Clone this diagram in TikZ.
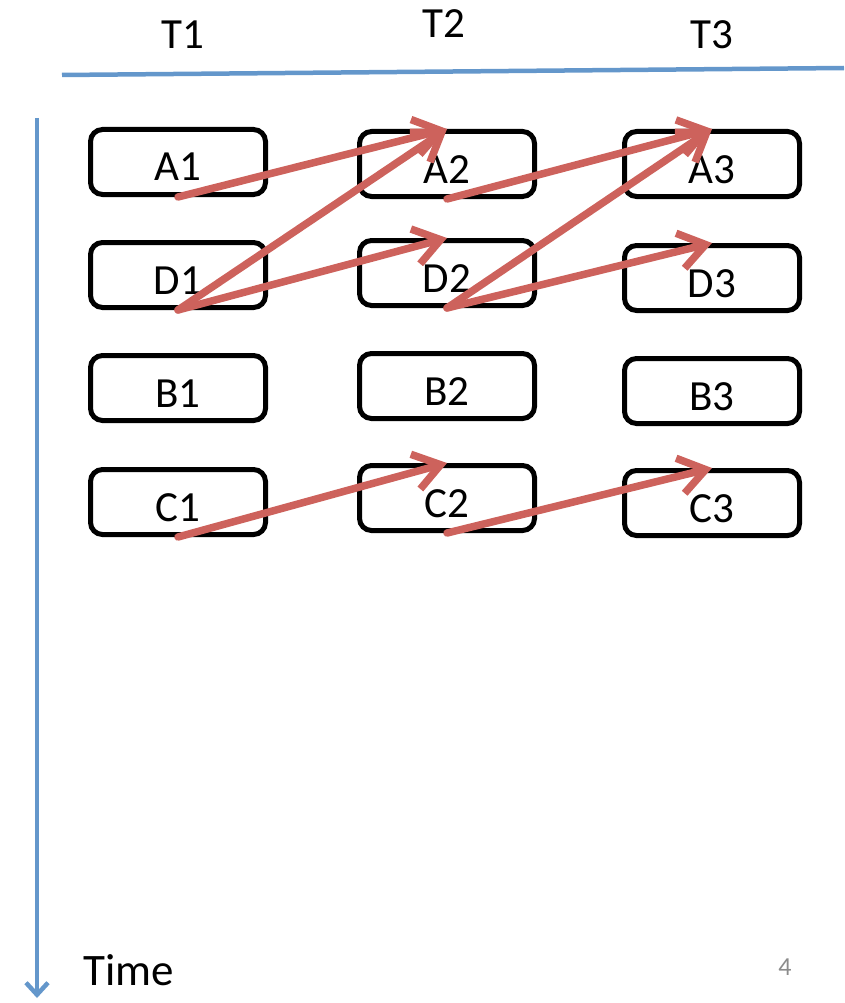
\documentclass[tikz,border=0pt]{standalone}
\usepackage{fontspec}
\setmainfont{Carlito}
\usepackage{xcolor}
\usetikzlibrary{arrows.meta,positioning}
\definecolor{linkc}{HTML}{CD625C}
\definecolor{axisc}{HTML}{6497CB}
\definecolor{pagec}{HTML}{8C8C8C}
\tikzset{
  st/.style={draw=black,line width=5pt,rounded corners=12pt,minimum width=175pt,minimum height=65pt,inner sep=0pt,text height=38pt,text depth=0pt,font=\fontsize{43}{48}\selectfont},
  lk/.style={-{Straight Barb[length=26pt,width=36pt]},line width=7.5pt,linkc,line cap=round},
  ax/.style={line width=4.5pt,axisc},
  hd/.style={font=\fontsize{43}{50}\selectfont}
}
\begin{document}
\begin{tikzpicture}[x=1pt,y=-1pt]
\useasboundingbox (0,0) rectangle (844,1003);
% thread headers and the time axis
\node[hd] (t1) at (183,35) {T1}; \node[hd] (t2) at (444,24) {T2}; \node[hd] (t3) at (712,35) {T3};
\coordinate (hl) at (62,75); \coordinate (hr) at (844,68);
\draw[ax] (hl)--(hr);
\coordinate (vt) at (37,118); \coordinate (vb) at (37,998);
\draw[ax,-{Straight Barb[length=12pt,width=22pt]}] (vt)--(vb);
\node[hd,anchor=west,font=\fontsize{45}{52}\selectfont] (time) at (80,970) {Time};
\node[pagec,font=\fontsize{26}{30}\selectfont] (pg) at (785,967) {4};
% state boxes
\node[st] (a1) at (178,162) {A1}; \node[st] (d1) at (178,275) {D1}; \node[st] (b1) at (178,388) {B1}; \node[st] (c1) at (178,502) {C1};
\node[st] (a2) at (447,164) {A2}; \node[st] (d2) at (447,273) {D2}; \node[st] (b2) at (447,386) {B2}; \node[st] (c2) at (447,498) {C2};
\node[st] (a3) at (712,164) {A3}; \node[st] (d3) at (712,278) {D3}; \node[st] (b3) at (712,391) {B3}; \node[st] (c3) at (712,503) {C3};
% dependencies
\draw[lk] (a1.south)--(a2.north); \draw[lk] (d1.south)--(a2.north); \draw[lk] (d1.south)--(d2.north);
\draw[lk] (a2.south)--(a3.north); \draw[lk] (d2.south)--(a3.north); \draw[lk] (d2.south)--(d3.north);
\draw[lk] (c1.south)--(c2.north); \draw[lk] (c2.south)--(c3.north);
\end{tikzpicture}
\end{document}
